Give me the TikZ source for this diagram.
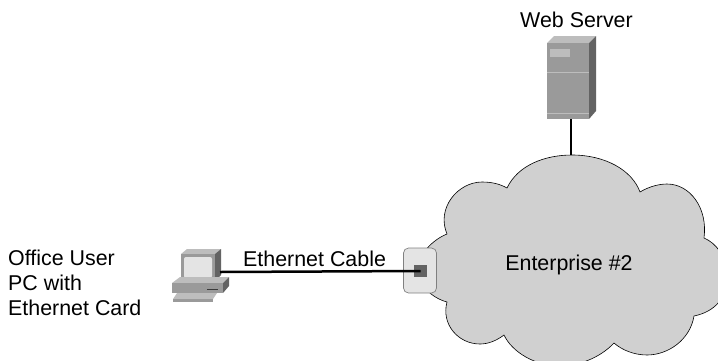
\documentclass[tikz,border=0pt]{standalone}
\usepackage{fontspec}
\setmainfont{Liberation Sans}
\definecolor{cloudgray}{HTML}{D0D0D0}
\definecolor{facegray}{HTML}{9A9A9A}
\definecolor{topgray}{HTML}{BDBDBD}
\definecolor{sidegray}{HTML}{636363}
\definecolor{lightgray}{HTML}{E4E4E4}
\tikzset{
  label text/.style={font=\fontsize{21.4}{25}\selectfont,inner sep=0pt},
  link/.style={line width=2.5pt,black},
}
\begin{document}
\begin{tikzpicture}[x=1pt,y=-1pt]
\useasboundingbox (0,0) rectangle (718,360);
\clip (0,0) rectangle (718,360);
\draw[fill=cloudgray,line width=0.6pt] (507,188)
  .. controls (518,165) and (545,155) .. (572,155)
  .. controls (605,155) and (632,170) .. (640,192)
  .. controls (650,186) and (660,184) .. (667,184)
  .. controls (690,184) and (708,208) .. (704,238)
  .. controls (716,243) and (726,256) .. (728,275)
  .. controls (728,298) and (714,312) .. (694,316)
  .. controls (690,340) and (668,355) .. (647,355)
  .. controls (634,355) and (622,350) .. (614,343)
  .. controls (600,358) and (578,366) .. (560,366)
  .. controls (535,366) and (512,352) .. (504,335)
  .. controls (496,341) and (488,344) .. (480,344)
  .. controls (458,344) and (441,324) .. (447,302)
  .. controls (432,298) and (418,285) .. (418,270)
  .. controls (418,255) and (432,240) .. (447,234)
  .. controls (436,208) and (458,182) .. (482,182)
  .. controls (492,182) and (500,184) .. (507,188) -- cycle;
% web server
\fill[topgray] (547,43) -- (554,36) -- (596,36) -- (589,43) -- cycle;
\fill[sidegray] (589,43) -- (596,36) -- (596,111) -- (589,119) -- cycle;
\fill[facegray] (547,43) rectangle (589,119);
\fill[topgray] (550,48.5) rectangle (570,57);
\draw[topgray,line width=0.7pt] (547,72) -- (589,72);
\draw[topgray,line width=0.7pt] (547,113) -- (589,113);
% pc
\fill[topgray] (181,254) -- (187,249) -- (221,249) -- (215,254) -- cycle;
\fill[sidegray] (215,254) -- (221,249) -- (221,275) -- (215,281) -- cycle;
\fill[facegray] (181,254) rectangle (215,281);
\fill[lightgray,rounded corners=2pt] (184,257) rectangle (212,278);
\fill[topgray] (172,283) -- (180,277) -- (229,277) -- (223,283) -- cycle;
\fill[sidegray] (223,283) -- (229,277) -- (229,286) -- (223,293) -- cycle;
\fill[facegray] (172,283) rectangle (223,293);
\draw[sidegray!60!black,line width=0.8pt] (207,289) -- (218,289);
\fill[topgray] (177,293) -- (217,293) -- (213,299) -- (173,299) -- cycle;
\fill[facegray] (173,299) -- (213,299) -- (213,302) -- (173,302) -- cycle;
% wall jack
\node[draw=gray,fill=lightgray,rounded corners=5pt,line width=0.7pt,minimum width=33pt,minimum height=45pt,inner sep=0pt] (jack) at (420,270.5) {};
\node[fill=sidegray,minimum width=13pt,minimum height=12.5pt,inner sep=0pt] (port) at (420.5,271) {};
\coordinate (pcport) at (220,272);
\coordinate (server) at (571,119);
\coordinate (cloudtop) at (571,155);
\draw[link] (pcport) -- (port.center);
\draw[link] (server) -- (cloudtop);
\node[label text] (webserver) at (576.5,20) {Web Server};
\node[label text] (enterprise) at (569,265) {Enterprise \#2};
\node[label text,anchor=west] (cable) at (243,259) {Ethernet Cable};
\node[label text,anchor=west,align=left] (user) at (8,283) {Office User\\PC with\\Ethernet Card};
\end{tikzpicture}
\end{document}
